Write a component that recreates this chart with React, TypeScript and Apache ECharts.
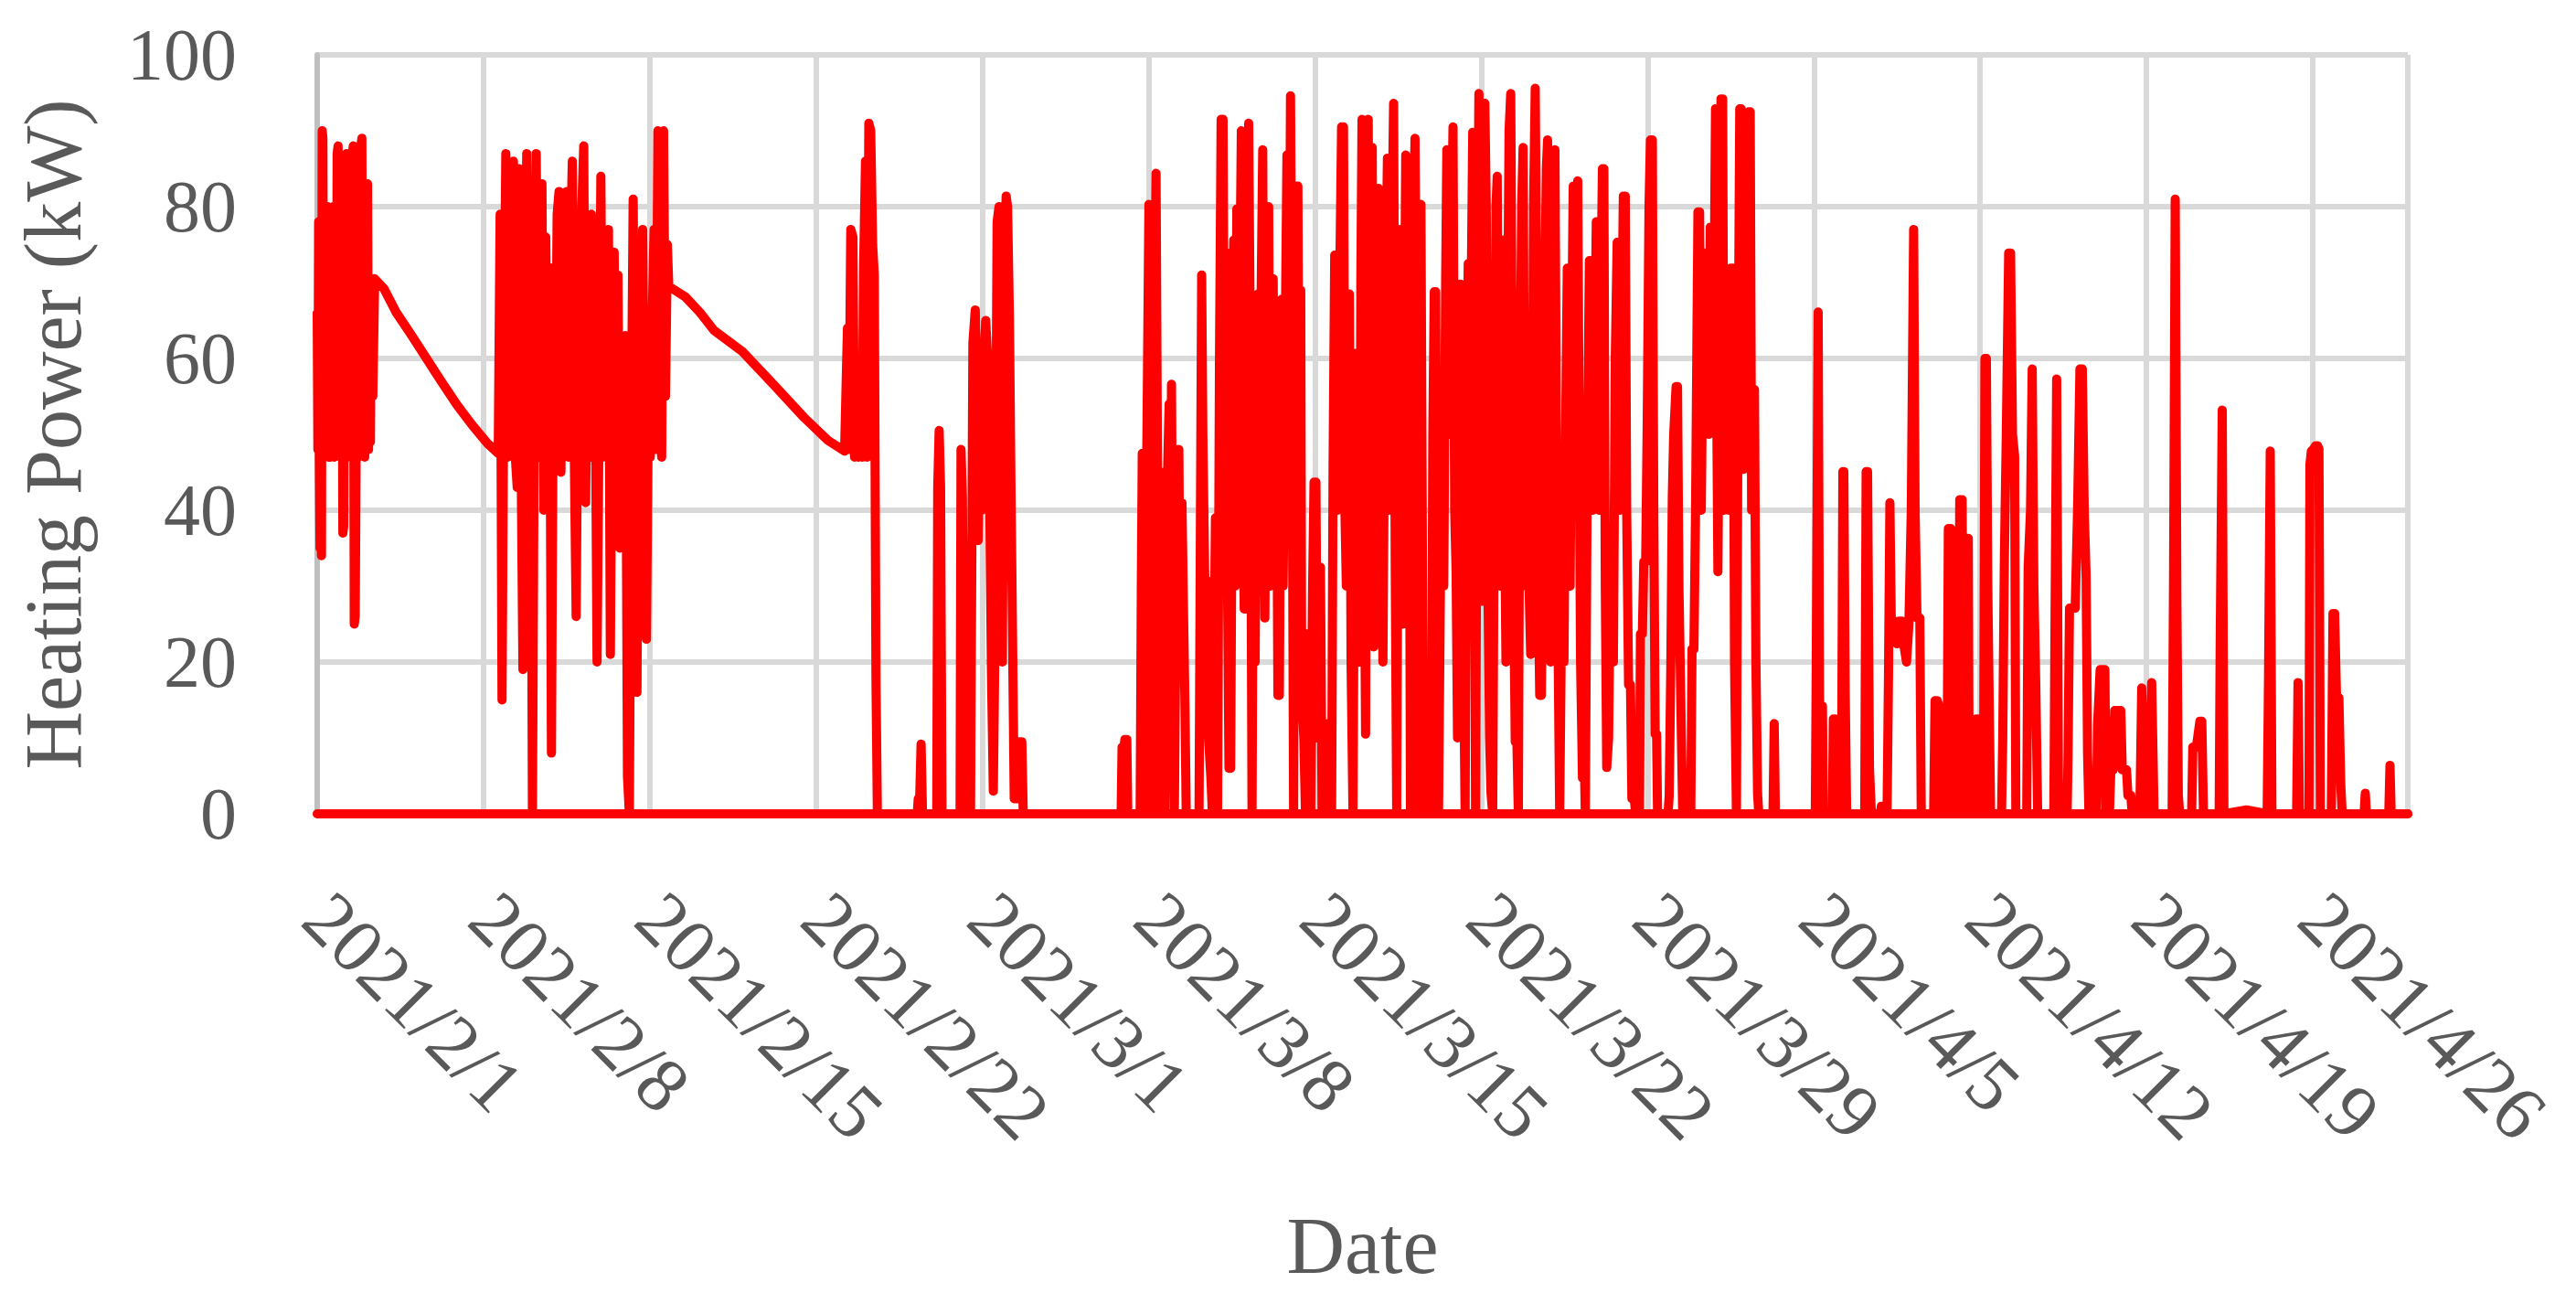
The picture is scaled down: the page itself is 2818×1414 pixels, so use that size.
import React, { useEffect, useRef } from "react";
import * as echarts from "echarts";

// x = days since 2021/2/1 00:00, y = heating power (kW)
const xTickDays = [0, 7, 14, 21, 28, 35, 42, 49, 56, 63, 70, 77, 84];
const yTicks = [0, 20, 40, 60, 80, 100];

const febBurst1 = [[0.00,66],[0.03,48],[0.06,78],[0.09,47],[0.12,35],[0.15,62],[0.18,34],[0.21,90],[0.24,89],[0.27,48],[0.30,79],[0.33,47],[0.37,71],[0.40,48],[0.44,80],[0.48,47],[0.52,72],[0.56,47],[0.60,76],[0.64,48],[0.68,80],[0.72,47],[0.76,62],[0.80,48],[0.84,87],[0.88,88],[0.92,48],[0.96,70],[1.00,47],[1.04,80],[1.08,37],[1.12,38],[1.16,78],[1.20,47],[1.24,87],[1.28,86],[1.32,48],[1.36,76],[1.40,47],[1.44,80],[1.48,87],[1.52,88],[1.56,25],[1.60,26],[1.64,48],[1.68,79],[1.72,47],[1.76,82],[1.80,48],[1.84,88],[1.88,89],[1.92,48],[1.96,83],[2.00,47],[2.04,80],[2.08,48],[2.12,83],[2.16,48],[2.20,66],[2.24,49],[2.28,68],[2.34,55],[2.42,70.5]];
const febCurve1 = [[2.81,69.2],[3.32,66.1],[3.96,63.1],[4.60,60.0],[5.24,56.9],[5.88,53.9],[6.53,51.2],[7.17,48.8],[7.62,47.5]];
const febBurst2 = [[7.70,79],[7.78,15],[7.86,60],[7.94,87],[8.02,47],[8.10,70],[8.18,48],[8.26,86],[8.34,47],[8.42,43],[8.50,85],[8.58,48],[8.66,19],[8.74,60],[8.82,87],[8.90,47],[8.98,70],[9.06,0],[9.14,55],[9.22,87],[9.30,47],[9.38,80],[9.46,83],[9.54,40],[9.62,76],[9.70,48],[9.78,72],[9.86,8],[9.94,60],[10.02,48],[10.10,79],[10.18,82],[10.26,45],[10.34,81],[10.42,48],[10.50,82],[10.58,47],[10.66,75],[10.74,86],[10.82,48],[10.90,26],[10.98,60],[11.06,48],[11.14,80],[11.22,88],[11.30,41],[11.38,70],[11.46,47],[11.54,79],[11.62,47],[11.70,60],[11.78,20],[11.86,50],[11.94,84],[12.02,47],[12.10,70],[12.18,48],[12.26,77],[12.34,21],[12.42,60],[12.50,74],[12.58,47],[12.66,71],[12.74,35],[12.82,60],[12.90,47],[12.98,63],[13.06,5],[13.14,0],[13.22,50],[13.30,81],[13.38,47],[13.46,16],[13.54,60],[13.62,48],[13.70,77],[13.78,47],[13.86,23],[13.94,55],[14.02,47],[14.10,65],[14.18,77],[14.26,48],[14.34,90],[14.42,55],[14.50,47],[14.58,90],[14.66,55],[14.74,75],[14.80,69.5]];
const febCurve2 = [[15.50,68.1],[16.10,66.1],[16.70,63.7],[17.90,60.9],[19.20,56.6],[20.50,52.2],[21.50,49.2],[22.20,47.8]];
const febBurst3 = [[22.26,56],[22.32,64],[22.38,48],[22.46,77],[22.55,76],[22.62,47],[22.70,60],[22.78,47],[22.86,58],[22.94,47],[23.00,72],[23.08,86],[23.15,47],[23.22,91],[23.30,90],[23.38,75],[23.45,71],[23.52,18],[23.58,0]];
const lateFebSpikes = [[25.26,0],[25.30,2],[25.36,2],[25.42,9.2],[25.48,0],[26.08,0],[26.12,43],[26.18,50.5],[26.24,43],[26.30,0],[27.06,0],[27.10,48],[27.16,41.6],[27.22,10.5],[27.28,0],[27.50,0],[27.55,31],[27.60,62],[27.70,66.4],[27.76,53],[27.82,36],[27.90,53],[27.98,40],[28.06,60],[28.14,65],[28.22,60],[28.30,44],[28.38,19],[28.46,3],[28.52,20],[28.62,78],[28.70,80],[28.76,40],[28.84,20],[28.92,70],[29.00,81.4],[29.06,80],[29.14,65],[29.20,44],[29.26,26],[29.34,2],[29.50,2],[29.58,9.5],[29.66,9.5],[29.72,0]];
const earlyMarSpikes = [[33.84,0],[33.88,8.8],[33.96,8.8],[34.00,9.8],[34.08,9.8],[34.12,0],[34.64,0],[34.69,30],[34.73,47.5],[34.78,10],[34.84,0],[34.90,40],[35.01,80.3],[35.08,20],[35.14,0],[35.20,50],[35.31,84.4],[35.38,40],[35.44,0],[35.50,30],[35.56,45],[35.62,10],[35.68,0],[35.76,40],[35.86,54],[35.92,30],[35.96,56.6],[36.02,20],[36.08,0],[36.16,30],[36.27,48],[36.33,20],[36.40,41],[36.46,28],[36.53,13.5],[36.58,0]];
const marDense = [[37.12,0],[37.18,40],[37.23,71],[37.28,50],[37.36,31],[37.44,30.8],[37.52,10],[37.62,4.7],[37.68,0],[37.75,20],[37.81,39],[37.90,0],[37.98,60],[38.05,91.5],[38.13,91.5],[38.20,40],[38.26,74],[38.32,30],[38.38,6],[38.45,6],[38.52,50],[38.58,75.6],[38.64,30],[38.71,79.7],[38.78,40],[38.84,70],[38.90,90],[38.96,50],[39.02,27],[39.10,27],[39.16,80],[39.21,91],[39.28,60],[39.35,0],[39.41,47.8],[39.48,20],[39.54,50],[39.60,68.5],[39.66,40],[39.74,70],[39.80,87.5],[39.86,40],[39.89,25.8],[39.96,60],[40.05,80],[40.12,30],[40.18,50],[40.24,70.5],[40.30,40],[40.37,59],[40.44,15.6],[40.50,15.6],[40.56,50],[40.60,67.8],[40.66,30],[40.74,60],[40.82,86.8],[40.88,50],[40.93,70],[40.97,94.6],[41.03,60],[41.10,0],[41.16,60],[41.22,82.7],[41.28,82.7],[41.34,40],[41.40,69],[41.44,16],[41.53,10],[41.60,0],[41.66,23.7],[41.76,23.7],[41.82,0],[41.90,30],[41.96,43.7],[42.04,43.7],[42.10,10],[42.17,32.5],[42.23,32.5],[42.30,0],[42.36,11.9],[42.44,11.9],[42.50,0],[42.56,5],[42.64,6.8],[42.70,0],[42.76,45],[42.83,73.6],[42.90,73.6],[42.96,40],[43.04,70],[43.12,90.5],[43.20,90.5],[43.26,40],[43.32,30],[43.38,68.5],[43.45,68.5],[43.52,19.7],[43.60,0],[43.66,40],[43.74,60.7],[43.82,60.7],[43.88,20],[43.93,70],[43.98,91.5],[44.05,50],[44.13,10.5],[44.19,70],[44.24,91.5],[44.30,50],[44.36,40],[44.41,87.8],[44.47,22],[44.54,74.6],[44.60,40],[44.67,82.4],[44.73,50],[44.80,40.7],[44.86,20],[44.92,50],[44.98,70],[45.05,86.4],[45.12,40],[45.18,60],[45.25,80],[45.31,93.6],[45.38,31.9],[45.44,0],[45.50,50],[45.57,77],[45.63,40],[45.70,25],[45.76,60],[45.82,86.8],[45.88,50],[45.95,76.3],[46.02,0],[46.10,50],[46.16,80],[46.21,89],[46.28,60],[46.34,0],[46.40,60],[46.46,80.3],[46.54,20],[46.60,0],[46.65,4],[46.72,0],[46.90,0],[46.96,50],[47.02,68.8],[47.08,68.8],[47.14,20],[47.20,0],[47.28,30],[47.36,48.5],[47.42,30],[47.50,70],[47.55,87.5],[47.62,50],[47.70,60],[47.76,80],[47.81,90.5],[47.88,40],[47.94,31.9],[48.00,10],[48.07,50],[48.13,69.8],[48.20,40],[48.26,18.3],[48.32,0],[48.38,50],[48.45,72.5],[48.52,40],[48.58,70],[48.64,89.8],[48.70,50],[48.76,0],[48.84,70],[48.90,94.9],[48.96,60],[49.03,28],[49.09,60],[49.15,93.6],[49.21,80],[49.28,30],[49.35,10],[49.41,2.7],[49.48,0],[49.56,50],[49.62,80],[49.67,84],[49.74,40],[49.80,30],[49.86,60],[49.92,75.6],[49.98,40],[50.04,20],[50.10,60],[50.17,90],[50.24,94.9],[50.30,60],[50.36,30],[50.43,9.5],[50.50,9.5],[50.56,0],[50.62,50],[50.70,80],[50.76,87.8],[50.82,50],[50.88,30],[50.95,46.8],[51.01,30],[51.08,21],[51.14,40],[51.20,80],[51.27,95.6],[51.33,70],[51.40,30],[51.46,15.6],[51.53,15.6],[51.60,40],[51.68,70],[51.74,85],[51.79,88.8],[51.85,50],[51.92,20],[51.98,60],[52.04,80],[52.10,87.5],[52.16,50],[52.24,20],[52.30,0],[52.36,20],[52.42,31.2],[52.48,20],[52.55,50],[52.62,71.9],[52.68,40],[52.74,30],[52.80,60],[52.87,82.7],[52.93,50],[53.00,60],[53.06,83.4],[53.12,50],[53.18,20],[53.26,4.7],[53.32,9.5],[53.38,0],[53.45,40],[53.55,72.9],[53.62,72.9],[53.70,40],[53.78,60],[53.84,78],[53.90,78],[53.96,40],[54.04,70],[54.10,85],[54.16,85],[54.22,30],[54.28,6.1],[54.36,10],[54.44,34.6],[54.50,34.6],[54.56,20],[54.64,60],[54.72,75.3],[54.78,75.3],[54.84,40],[54.90,60],[54.98,81.4],[55.06,81.4],[55.12,40],[55.20,17],[55.28,17],[55.34,2],[55.44,2],[55.50,0],[55.66,0],[55.70,23.7],[55.78,23.7],[55.84,33.2],[55.92,33.2],[55.98,50],[56.06,80],[56.12,88.8],[56.20,88.8],[56.26,40],[56.32,10.5],[56.38,10.5],[56.42,0]];
const aprBursts = [[56.86,0],[56.91,2.4],[56.98,20],[57.04,41.7],[57.10,50],[57.20,56.3],[57.26,56.3],[57.32,30],[57.42,10.8],[57.48,0],[57.82,0],[57.87,21.7],[57.95,21.7],[58.02,40],[58.12,79.3],[58.19,79.3],[58.26,40],[58.32,60],[58.42,73.9],[58.51,73.9],[58.58,50],[58.64,77.3],[58.71,77.3],[58.78,60],[58.86,92.9],[58.92,50],[58.96,31.9],[59.02,60],[59.09,94.2],[59.16,94.2],[59.22,40],[59.30,68.5],[59.35,68.5],[59.42,40],[59.50,71.9],[59.60,71.9],[59.66,20],[59.74,0],[59.80,50],[59.88,92.9],[59.94,92.9],[60.00,45.4],[60.05,45.4],[60.12,50],[60.20,70],[60.26,92.5],[60.32,92.5],[60.38,40],[60.44,55.9],[60.50,55.9],[60.56,20],[60.63,2.7],[60.68,0],[61.28,0],[61.33,11.9],[61.38,0],[63.06,0],[63.10,19.7],[63.18,66.1],[63.24,14.2],[63.36,14.2],[63.40,0],[63.78,0],[63.82,12.5],[63.88,12.5],[63.92,0],[64.16,0],[64.22,45.1],[64.26,45.1],[64.32,15.6],[64.38,0],[65.14,0],[65.20,45.1],[65.26,45.1],[65.34,6],[65.42,0],[65.80,0],[65.84,1],[65.90,1],[65.94,0],[66.08,0],[66.14,18],[66.20,41],[66.26,25],[66.40,25.4],[66.50,22.4],[66.60,25.4],[66.70,25.4],[66.78,22.4],[66.90,20],[67.00,25],[67.10,40],[67.20,77],[67.26,40],[67.34,25.8],[67.46,25.8],[67.52,0],[68.04,0],[68.10,14.9],[68.20,14.9],[68.26,14.2],[68.30,0],[68.60,0],[68.66,37.6],[68.76,37.6],[68.80,0],[69.08,0],[69.14,41.4],[69.24,41.4],[69.30,0],[69.40,0],[69.44,36.3],[69.50,36.3],[69.54,0],[69.80,0],[69.84,12.5],[69.90,12.5],[69.94,0],[70.14,0],[70.20,60],[70.26,60],[70.32,30],[70.37,17.3],[70.44,0],[70.90,0],[70.95,10],[71.02,34],[71.10,50],[71.20,73.9],[71.28,73.9],[71.36,50],[71.45,47.1],[71.50,0]];
const lateAprSpikes = [[71.96,0],[72.02,32.5],[72.12,40],[72.19,58.6],[72.26,30],[72.34,17],[72.42,0],[73.10,0],[73.15,25],[73.22,57.3],[73.30,0],[73.66,0],[73.70,8],[73.76,27.1],[73.90,27.1],[74.00,27.1],[74.10,40],[74.20,58.6],[74.30,58.6],[74.38,40],[74.46,31.2],[74.52,8],[74.58,0],[74.72,0.7],[74.84,0.7],[74.90,0],[74.94,11.5],[75.05,19],[75.25,19],[75.30,0],[75.44,0],[75.50,5.8],[75.60,5.8],[75.66,13.6],[75.92,13.6],[75.98,5.8],[76.16,5.8],[76.22,2.4],[76.34,2.4],[76.40,0],[76.72,0],[76.80,16.6],[76.92,0],[77.10,0],[77.22,17.3],[77.32,0],[78.08,0],[78.14,31],[78.21,81],[78.28,28],[78.34,2.4],[78.40,0],[78.90,0],[78.95,8.8],[79.10,8.8],[79.25,12.2],[79.33,12.2],[79.40,0],[80.06,0],[80.10,21],[80.19,53.2],[80.26,0],[81.16,0.5],[81.26,0.5],[82.08,0],[82.14,18.6],[82.21,47.8],[82.28,0],[83.32,0],[83.38,17.3],[83.44,0],[83.84,0],[83.88,46],[83.94,47.8],[84.04,48.1],[84.12,48.5],[84.20,48.5],[84.26,48.1],[84.32,0],[84.78,0],[84.85,26.4],[84.92,26.4],[85.00,15.3],[85.10,15.3],[85.18,3.7],[85.24,0],[86.16,0],[86.21,2.7],[86.26,0],[87.20,0],[87.25,6.4],[87.30,0],[88.00,0]];
const baseline = [[0, 0], [88, 0]];

const heatingPower = [
  ...febBurst1, ...febCurve1, ...febBurst2, ...febCurve2, ...febBurst3,
  ...lateFebSpikes, ...earlyMarSpikes, ...marDense, ...aprBursts, ...lateAprSpikes,
];

const FONT = "'Liberation Serif', 'DejaVu Serif', serif";
const TEXT = "#595959";

function dayLabel(v: number): string {
  const r = Math.round(v);
  if (Math.abs(v - r) > 1e-6 || !xTickDays.includes(r)) return "";
  const d = new Date(2021, 1, 1 + r);
  return `${d.getFullYear()}/${d.getMonth() + 1}/${d.getDate()}`;
}

export default function App() {
  const ref = useRef<HTMLDivElement>(null);
  useEffect(() => {
    if (!ref.current) return;
    const chart = echarts.init(ref.current, null, { renderer: "svg" });
    chart.setOption({
      animation: false,
      backgroundColor: "#ffffff",
      grid: { left: 347, right: 184, top: 60, bottom: 524, containLabel: false, outerBoundsMode: "none" },
      xAxis: {
        type: "value",
        min: 0,
        max: 88,
        interval: 7,
        name: "Date",
        nameLocation: "middle",
        nameGap: 428,
        nameTextStyle: { fontFamily: FONT, fontSize: 88, color: TEXT },
        axisLine: { show: true, lineStyle: { color: "#d9d9d9", width: 6 } },
        axisTick: { show: false },
        splitLine: { show: true, lineStyle: { color: "#d9d9d9", width: 6 } },
        axisLabel: {
          show: true,
          rotate: -45,
          margin: 100,
          fontFamily: FONT,
          fontSize: 84,
          color: TEXT,
          showMaxLabel: false,
          formatter: dayLabel,
        },
      },
      yAxis: {
        type: "value",
        min: yTicks[0],
        max: yTicks[yTicks.length - 1],
        interval: 20,
        name: "Heating Power (kW)",
        nameLocation: "middle",
        nameGap: 245,
        nameRotate: 90,
        nameTextStyle: { fontFamily: FONT, fontSize: 88, color: TEXT },
        axisLine: { show: true, lineStyle: { color: "#bfbfbf", width: 6 } },
        axisTick: { show: false },
        splitLine: { show: true, lineStyle: { color: "#d9d9d9", width: 6 } },
        axisLabel: { margin: 88, fontFamily: FONT, fontSize: 80, color: TEXT },
      },
      series: [
        {
          type: "line",
          data: baseline,
          showSymbol: false,
          silent: true,
          lineStyle: { color: "#ff0000", width: 10, cap: "round", join: "round" },
          z: 3,
        },
        {
          type: "line",
          data: heatingPower,
          showSymbol: false,
          silent: true,
          lineStyle: { color: "#ff0000", width: 10, cap: "round", join: "round" },
          z: 4,
        },
      ],
    });
    return () => chart.dispose();
  }, []);
  return (
    <div
      ref={ref}
      style={{ position: "absolute", left: 0, top: 0, width: 2818, height: 1414, background: "#fff" }}
    />
  );
}
